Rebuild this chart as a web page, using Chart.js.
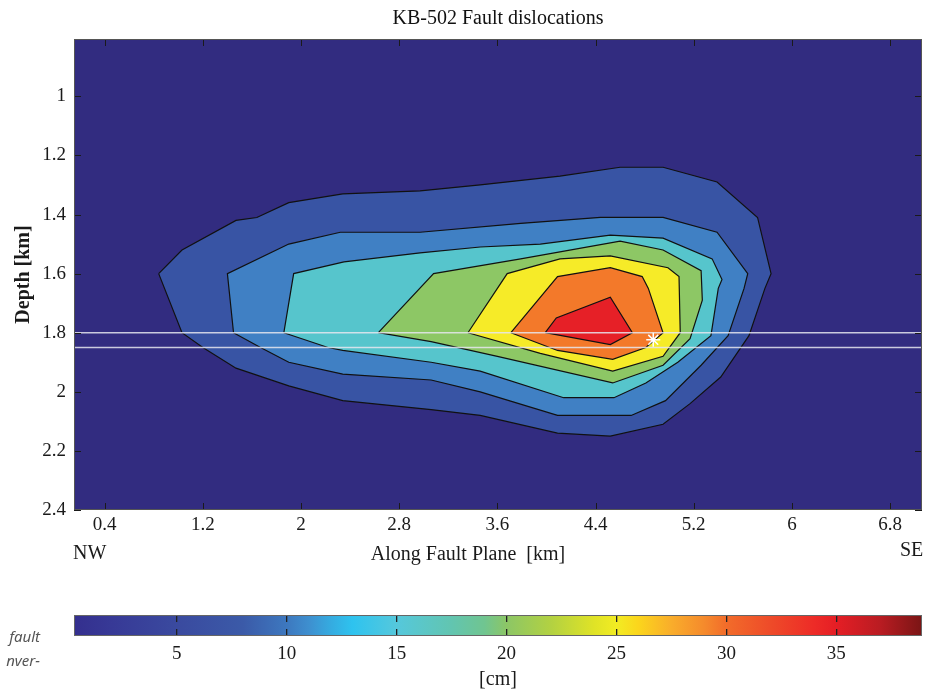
<!DOCTYPE html>
<html>
<head>
<meta charset="utf-8">
<script src="https://cdn.jsdelivr.net/npm/chart.js@4.4.1/dist/chart.umd.min.js"></script>
<style>
  body { margin: 0; background: #fff; }
  #wrap { position: relative; width: 936px; height: 692px; }
  .lbl { position: absolute; font-family: "Liberation Serif", serif; font-size: 20px; line-height: 24px; color: #1a1a1a; white-space: nowrap; }
  .cap { position: absolute; font-family: "Noto Sans", sans-serif; font-style: italic; font-size: 15px; line-height: 18px; color: #555; text-align: right; }
</style>
</head>
<body>
<div id="wrap">
  <div style="position:absolute;left:0;top:0;width:936px;height:590px"><canvas id="main"></canvas></div>
  <div style="position:absolute;left:0;top:590px;width:936px;height:102px"><canvas id="cbar"></canvas></div>
  <div class="lbl" style="left:73px;top:540px">NW</div>
  <div class="lbl" style="left:900px;top:537px">SE</div>
  <div class="lbl" style="left:268px;top:541px;width:400px;text-align:center">Along Fault Plane&nbsp; [km]</div>
  <div class="cap" style="right:896px;top:627px">fault</div>
  <div class="cap" style="right:896px;top:651px">nver-</div>
</div>
<script>
// axis ticks
var xTicks = [0.4, 1.2, 2, 2.8, 3.6, 4.4, 5.2, 6, 6.8];
var yTicks = [1, 1.2, 1.4, 1.6, 1.8, 2, 2.2, 2.4];
var cbTicks = [5, 10, 15, 20, 25, 30, 35];

// contour levels [cm] and their outlines (along fault km, depth km)
var levels = [5, 10, 15, 20, 25, 30, 35];
var km5 = [0.84, 1.03, 1.47, 1.64, 1.90, 2.34, 2.97, 3.46, 4.11, 4.60, 4.95, 5.39, 5.72, 5.83, 5.78, 5.65, 5.42, 5.17, 4.95, 4.52, 4.09, 3.46, 3.06, 2.34, 1.90, 1.47, 1.20, 1.03];
var depth5 = [1.60, 1.52, 1.42, 1.41, 1.36, 1.33, 1.32, 1.30, 1.27, 1.24, 1.24, 1.29, 1.41, 1.60, 1.65, 1.81, 1.95, 2.04, 2.11, 2.15, 2.14, 2.08, 2.06, 2.03, 1.98, 1.92, 1.85, 1.80];
var km10 = [1.45, 1.40, 1.90, 2.32, 2.97, 3.79, 4.44, 4.95, 5.39, 5.64, 5.61, 5.48, 5.26, 4.97, 4.69, 4.09, 3.46, 3.06, 2.34, 1.90, 1.67];
var depth10 = [1.80, 1.60, 1.50, 1.46, 1.46, 1.43, 1.41, 1.41, 1.46, 1.60, 1.65, 1.81, 1.91, 2.03, 2.08, 2.08, 2.00, 1.96, 1.94, 1.90, 1.85];
var km15 = [1.86, 1.94, 2.35, 2.97, 3.46, 3.95, 4.52, 4.95, 5.35, 5.43, 5.40, 5.34, 5.07, 4.81, 4.55, 4.14, 3.46, 3.06, 2.34, 2.22];
var depth15 = [1.80, 1.60, 1.56, 1.53, 1.51, 1.50, 1.47, 1.48, 1.55, 1.62, 1.65, 1.81, 1.90, 1.97, 2.02, 2.02, 1.93, 1.90, 1.86, 1.85];
var km20 = [2.63, 3.08, 3.79, 4.60, 4.95, 5.26, 5.27, 5.17, 4.95, 4.54, 3.60, 3.06];
var depth20 = [1.80, 1.60, 1.55, 1.49, 1.52, 1.59, 1.69, 1.82, 1.91, 1.97, 1.88, 1.83];
var km25 = [3.36, 3.68, 4.11, 4.52, 4.99, 5.08, 5.09, 4.95, 4.54, 3.95];
var depth25 = [1.80, 1.60, 1.55, 1.54, 1.58, 1.61, 1.80, 1.88, 1.93, 1.87];
var km30 = [3.71, 4.09, 4.52, 4.78, 4.83, 4.95, 4.81, 4.54, 4.09];
var depth30 = [1.80, 1.61, 1.58, 1.61, 1.65, 1.80, 1.85, 1.89, 1.86];
var km35 = [3.99, 4.08, 4.52, 4.70, 4.52];
var depth35 = [1.80, 1.75, 1.68, 1.80, 1.84];

// profile lines and hypocenter
var faultDepths = [1.8, 1.85];
var starKm = [4.87];
var starDepth = [1.824];

var xMin = 0.15, xMax = 7.06, yMin = 0.806, yMax = 2.4;
var cbMin = 0.32, cbMax = 38.9;

var bgColor = '#322c80';
var levelColors = ['#3854a4', '#4080c4', '#56c5cc', '#8dc765', '#f6eb28', '#f3792a', '#e62027'];
var serif = '"Liberation Serif", "Times New Roman", serif';

var outlines = [[km5, depth5], [km10, depth10], [km15, depth15], [km20, depth20], [km25, depth25], [km30, depth30], [km35, depth35]];

function polygon(xs, ys) {
    var pts = xs.map(function (x, i) { return {x: x, y: ys[i]}; });
    pts.push({x: xs[0], y: ys[0]});
    return pts;
}

var datasets = [];
outlines.forEach(function (o, i) {
    datasets.push({
        type: 'line',
        label: levels[i] + ' cm',
        data: polygon(o[0], o[1]),
        backgroundColor: levelColors[i],
        borderColor: '#111',
        borderWidth: 1.2,
        pointRadius: 0,
        tension: 0,
        fill: 'shape',
        order: 10 - i
    });
});
faultDepths.forEach(function (d) {
    datasets.push({
        type: 'line',
        data: [{x: xMin, y: d}, {x: xMax, y: d}],
        borderColor: 'rgba(230,230,238,0.85)',
        borderWidth: 1.6,
        pointRadius: 0,
        fill: false,
        order: 1
    });
});
datasets.push({
    type: 'scatter',
    data: starKm.map(function (x, i) { return {x: x, y: starDepth[i]}; }),
    pointStyle: 'star',
    pointRadius: 7,
    borderColor: '#fff',
    borderWidth: 1.5,
    order: 0
});

var framePlugin = {
    id: 'frame',
    beforeDraw: function (chart) {
        var a = chart.chartArea, c = chart.ctx;
        c.save();
        c.fillStyle = bgColor;
        c.fillRect(a.left, a.top, a.right - a.left, a.bottom - a.top);
        c.restore();
    },
    afterDraw: function (chart) {
        var a = chart.chartArea, c = chart.ctx;
        var sx = chart.scales.x, sy = chart.scales.y;
        c.save();
        c.strokeStyle = '#1a1a1a';
        c.lineWidth = 1;
        c.beginPath();
        xTicks.forEach(function (v) {
            var p = Math.round(sx.getPixelForValue(v)) + 0.5;
            c.moveTo(p, a.bottom); c.lineTo(p, a.bottom - 7);
            c.moveTo(p, a.top); c.lineTo(p, a.top + 7);
        });
        yTicks.forEach(function (v) {
            var p = Math.round(sy.getPixelForValue(v)) + 0.5;
            c.moveTo(a.left, p); c.lineTo(a.left + 7, p);
            c.moveTo(a.right, p); c.lineTo(a.right - 7, p);
        });
        c.stroke();
        c.strokeStyle = '#555';
        c.strokeRect(a.left + 0.5, a.top + 0.5, a.right - a.left - 1, a.bottom - a.top - 1);
        c.restore();
    }
};

new Chart(document.getElementById('main'), {
    type: 'line',
    data: {datasets: datasets},
    options: {
        responsive: true,
        maintainAspectRatio: false,
        animation: false,
        layout: {padding: {left: 12, right: 14, top: 0, bottom: 0}},
        plugins: {
            legend: {display: false},
            tooltip: {enabled: false},
            title: {
                display: true,
                text: 'KB-502 Fault dislocations',
                fullSize: false,
                color: '#111',
                font: {family: serif, size: 20, weight: 'normal'},
                padding: {top: 7, bottom: 8}
            }
        },
        scales: {
            x: {
                type: 'linear',
                min: xMin,
                max: xMax,
                grid: {display: false, drawTicks: false},
                border: {display: false},
                afterBuildTicks: function (s) { s.ticks = xTicks.map(function (v) { return {value: v}; }); },
                afterFit: function (s) { s.height = 80; },
                ticks: {
                    color: '#1a1a1a',
                    padding: 4,
                    maxRotation: 0,
                    font: {family: serif, size: 19},
                    callback: function (v) { return String(v); }
                }
            },
            y: {
                type: 'linear',
                reverse: true,
                min: yMin,
                max: yMax,
                grid: {display: false, drawTicks: false},
                border: {display: false},
                afterBuildTicks: function (s) { s.ticks = yTicks.map(function (v) { return {value: v}; }); },
                afterFit: function (s) { s.width = 62; },
                title: {
                    display: true,
                    text: 'Depth [km]',
                    color: '#1a1a1a',
                    padding: 0,
                    font: {family: serif, size: 20, weight: 'bold'}
                },
                ticks: {
                    color: '#1a1a1a',
                    padding: 8,
                    font: {family: serif, size: 19},
                    callback: function (v) { return String(v); }
                }
            }
        }
    },
    plugins: [framePlugin]
});

// colour bar
var cbStops = [
    [0.32, '#342f8e'], [2, '#373996'], [5, '#3a4a9f'], [8, '#3b5aa8'], [10, '#3d78bf'],
    [11, '#3e8fcf'], [12, '#35abe0'], [13, '#2ec3ef'], [15, '#55c8dc'], [17.5, '#62c5b0'],
    [19, '#70c590'], [20, '#8cc666'], [22, '#b2d142'], [24, '#e0e326'], [25, '#f2ec23'],
    [26, '#fbd51c'], [27.5, '#f9ad2b'], [29, '#f58a2c'], [30, '#f26c2a'], [32, '#ee4b29'],
    [34, '#ed2b27'], [35, '#e51e25'], [37, '#b91c22'], [38.9, '#7a1515']
];

var cbFrame = {
    id: 'cbFrame',
    afterDraw: function (chart) {
        var a = chart.chartArea, c = chart.ctx;
        c.save();
        c.strokeStyle = '#666';
        c.lineWidth = 1;
        c.strokeRect(a.left + 0.5, a.top + 0.5, a.right - a.left - 1, a.bottom - a.top - 1);
        c.restore();
    }
};

new Chart(document.getElementById('cbar'), {
    type: 'bar',
    data: {
        labels: ['cm'],
        datasets: [{
            data: [[cbMin, cbMax]],
            barPercentage: 1,
            categoryPercentage: 1,
            borderWidth: 0,
            backgroundColor: function (ctx) {
                var chart = ctx.chart;
                if (!chart.chartArea) return '#888';
                var sx = chart.scales.x;
                var x0 = sx.getPixelForValue(cbMin), x1 = sx.getPixelForValue(cbMax);
                var g = chart.ctx.createLinearGradient(x0, 0, x1, 0);
                cbStops.forEach(function (s) { g.addColorStop((s[0] - cbMin) / (cbMax - cbMin), s[1]); });
                return g;
            }
        }]
    },
    options: {
        indexAxis: 'y',
        responsive: true,
        maintainAspectRatio: false,
        animation: false,
        layout: {padding: {left: 74, right: 14, top: 25, bottom: 0}},
        plugins: {legend: {display: false}, tooltip: {enabled: false}},
        scales: {
            x: {
                type: 'linear',
                min: cbMin,
                max: cbMax,
                afterBuildTicks: function (s) { s.ticks = cbTicks.map(function (v) { return {value: v}; }); },
                afterFit: function (s) { s.height = 56; },
                grid: {z: 1, color: '#222', lineWidth: 1.3, drawTicks: false},
                border: {display: false, dash: [7, 7]},
                ticks: {color: '#1a1a1a', padding: 7, font: {family: serif, size: 19}},
                title: {
                    display: true,
                    text: '[cm]',
                    color: '#1a1a1a',
                    padding: {top: 2, bottom: 0},
                    font: {family: serif, size: 20}
                }
            },
            y: {display: false}
        }
    },
    plugins: [cbFrame]
});
</script>
</body>
</html>
